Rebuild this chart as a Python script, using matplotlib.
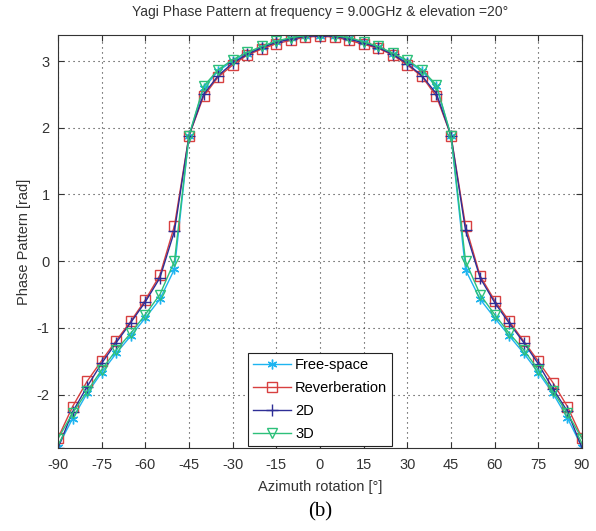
import matplotlib
matplotlib.use("Agg")
import matplotlib.pyplot as plt

angles = list(range(-90, 95, 5))

free_space = [-2.78, -2.36, -1.98, -1.67, -1.38, -1.12, -0.85, -0.57, -0.12, 1.88,
              2.59, 2.85, 3.00, 3.11, 3.21, 3.29, 3.34, 3.37, 3.38, 3.37,
              3.34, 3.28, 3.21, 3.11, 2.99, 2.85, 2.62, 1.88, -0.13, -0.57,
              -0.85, -1.12, -1.38, -1.67, -1.98, -2.35, -2.79]
reverberation = [-2.65, -2.18, -1.80, -1.49, -1.19, -0.90, -0.58, -0.21, 0.53, 1.88,
                 2.47, 2.76, 2.94, 3.09, 3.18, 3.26, 3.31, 3.36, 3.37, 3.36,
                 3.31, 3.25, 3.19, 3.09, 2.94, 2.77, 2.47, 1.88, 0.53, -0.22,
                 -0.59, -0.90, -1.20, -1.50, -1.82, -2.18, -2.65]
two_d = [-2.80, -2.26, -1.88, -1.53, -1.22, -0.92, -0.61, -0.25, 0.45, 1.88,
         2.50, 2.78, 2.97, 3.10, 3.20, 3.28, 3.33, 3.37, 3.38, 3.37,
         3.33, 3.27, 3.20, 3.10, 2.96, 2.78, 2.51, 1.88, 0.46, -0.25,
         -0.62, -0.93, -1.22, -1.54, -1.91, -2.25, -2.80]
three_d = [-2.66, -2.28, -1.95, -1.63, -1.33, -1.08, -0.80, -0.50, 0.00, 1.88,
           2.62, 2.87, 3.02, 3.13, 3.22, 3.30, 3.35, 3.38, 3.39, 3.38,
           3.35, 3.29, 3.22, 3.12, 3.01, 2.87, 2.64, 1.88, 0.00, -0.50,
           -0.80, -1.08, -1.33, -1.63, -1.95, -2.28, -2.66]

x_ticks = list(range(-90, 91, 15))
y_ticks = [-2, -1, 0, 1, 2, 3]

plt.rcParams['font.family'] = ['Liberation Sans', 'DejaVu Sans']
plt.rcParams['axes.unicode_minus'] = False

fig = plt.figure(figsize=(5.96, 5.31), dpi=100)
ax = fig.add_axes([58/596, 1-448/531, (582-58)/596, (448-35)/531])

ax.plot(angles, free_space, color='#1EB4F0', lw=1.0, marker=(6, 2, 0), ms=7, mew=1.0,
        label='Free-space')
ax.plot(angles, reverberation, color='#D84040', lw=1.0, marker='s', ms=7.5, mfc='none',
        mew=1.0, label='Reverberation')
ax.plot(angles, two_d, color='#2E2E96', lw=1.0, marker='+', ms=8, mew=1.0, label='2D')
ax.plot(angles, three_d, color='#2DC07A', lw=1.0, marker='v', ms=7, mfc='none', mew=1.0,
        label='3D')

ax.set_xlim(-90, 90)
ax.set_ylim(-2.8, 3.39)
ax.set_xticks(x_ticks)
ax.set_yticks(y_ticks)
ax.tick_params(direction='in', length=4, labelsize=10.5, top=True, right=True,
               colors='#333333', labelcolor='#333333')
ax.tick_params(axis='x', pad=7)
ax.tick_params(axis='y', pad=6)
for s in ax.spines.values():
    s.set_color('#333333')
    s.set_linewidth(0.8)
ax.grid(True, color='#333333', linestyle=(0, (1, 3.5)), linewidth=0.8)

ax.set_title('Yagi Phase Pattern at frequency = 9.00GHz & elevation =20°', fontsize=10,
             color='#333333', pad=14)
ax.set_xlabel('Azimuth rotation [°]', fontsize=10.5, color='#333333', labelpad=6)
ax.set_ylabel('Phase Pattern [rad]', fontsize=10.5, color='#333333', labelpad=4)

leg = ax.legend(loc='lower center', bbox_to_anchor=(0.5, 0.0), fontsize=10.5,
                fancybox=False, edgecolor='#222222', framealpha=1, handlelength=2.6,
                borderpad=0.35, labelspacing=0.6, handletextpad=0.3, borderaxespad=0.15)
leg.get_frame().set_linewidth(0.8)

fig.text(320/596, 1-512/531, '(b)', fontsize=15, family='Liberation Serif',
         ha='center', va='center')

fig.savefig('out.png', dpi=100)
